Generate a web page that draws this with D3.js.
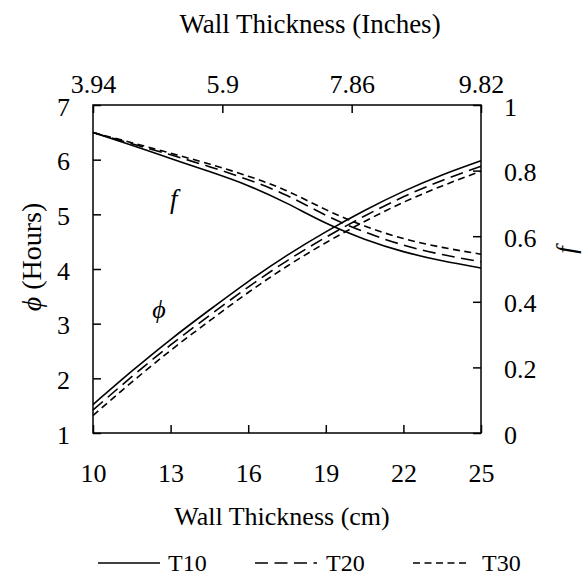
<!DOCTYPE html>
<html>
<head>
<meta charset="utf-8">
<script src="https://cdn.jsdelivr.net/npm/d3@7"></script>
<style>
  html, body { margin: 0; padding: 0; background: #fff; }
  svg { display: block; }
  text { font-family: "Liberation Serif", "Times New Roman", serif; fill: #000; }
</style>
</head>
<body>
<svg id="chart" width="587" height="577"></svg>
<script>
// Wall thickness (cm) at which the curves are sampled
const thicknessCm = [10, 11.5, 13, 14.5, 16, 17.5, 19, 20.5, 22, 23.5, 25];

// Time lag phi (hours), left axis
const phiT10 = [1.52, 2.13, 2.71, 3.25, 3.77, 4.25, 4.68, 5.07, 5.42, 5.72, 5.98];
const phiT20 = [1.42, 2.03, 2.61, 3.15, 3.67, 4.15, 4.58, 4.97, 5.32, 5.62, 5.88];
const phiT30 = [1.32, 1.93, 2.51, 3.05, 3.57, 4.05, 4.48, 4.87, 5.22, 5.52, 5.79];

// Decrement factor f, right axis
const fT10 = [0.916, 0.877, 0.837, 0.797, 0.754, 0.700, 0.640, 0.591, 0.553, 0.525, 0.503];
const fT20 = [0.916, 0.882, 0.848, 0.812, 0.772, 0.724, 0.664, 0.613, 0.573, 0.544, 0.522];
const fT30 = [0.916, 0.885, 0.853, 0.820, 0.783, 0.738, 0.681, 0.631, 0.593, 0.566, 0.545];

// Tick labels
const cmTicks = [10, 13, 16, 19, 22, 25];
const inchTicks = [3.94, 5.9, 7.86, 9.82];
const phiTicks = [1, 2, 3, 4, 5, 6, 7];
const fTicks = [0, 0.2, 0.4, 0.6, 0.8, 1];

const seriesNames = ["T10", "T20", "T30"];
const dashes = { T10: null, T20: "13,6.5", T30: "7,4.5" };

const svg = d3.select("#chart");
const L = 93, R = 481, T = 105, B = 433;
const FS = 24;
const TICK_FS = 26;
const SERIF = "Liberation Serif, Times New Roman, serif";

const x = d3.scaleLinear().domain([10, 25]).range([L, R]);
const xIn = d3.scaleLinear().domain([3.94, 9.82]).range([L, R]);
const yPhi = d3.scaleLinear().domain([1, 7]).range([B, T]);
const yF = d3.scaleLinear().domain([0, 1]).range([B, T]);

function styleAxis(g) {
  g.attr("font-family", SERIF);
  g.select(".domain").remove();
  g.selectAll(".tick line").attr("stroke", "#000").attr("stroke-width", 1.5);
  g.selectAll(".tick text").attr("font-size", TICK_FS).attr("fill", "#000");
}

// Bottom axis (cm)
svg.append("g").attr("transform", `translate(0,${B})`)
  .call(d3.axisBottom(x).tickValues(cmTicks).tickSizeInner(-8).tickSizeOuter(0).tickFormat(d3.format("d")))
  .call(styleAxis)
  .call(g => g.selectAll(".tick text").attr("y", 49).attr("dy", null));

// Top axis (inches)
svg.append("g").attr("transform", `translate(0,${T})`)
  .call(d3.axisTop(xIn).tickValues(inchTicks).tickSizeInner(-8).tickSizeOuter(0).tickFormat(d => String(d)))
  .call(styleAxis)
  .call(g => g.selectAll(".tick text").attr("y", -12).attr("dy", null));

// Left axis (phi)
svg.append("g").attr("transform", `translate(${L},0)`)
  .call(d3.axisLeft(yPhi).tickValues(phiTicks).tickSizeInner(-8).tickSizeOuter(0).tickFormat(d3.format("d")))
  .call(styleAxis)
  .call(g => g.selectAll(".tick text").attr("x", -23).attr("dy", 10));

// Right axis (f)
svg.append("g").attr("transform", `translate(${R},0)`)
  .call(d3.axisRight(yF).tickValues(fTicks).tickSizeInner(-8).tickSizeOuter(0).tickFormat(d => String(d)))
  .call(styleAxis)
  .call(g => g.selectAll(".tick text").attr("x", 23).attr("dy", 10));

// Plot frame
svg.append("rect")
  .attr("x", L).attr("y", T).attr("width", R - L).attr("height", B - T)
  .attr("fill", "none").attr("stroke", "#000").attr("stroke-width", 1.5);

// Curves
const phiLine = d3.line().x((d, i) => x(thicknessCm[i])).y(d => yPhi(d)).curve(d3.curveNatural);
const fLine = d3.line().x((d, i) => x(thicknessCm[i])).y(d => yF(d)).curve(d3.curveNatural);

const phiSeries = { T10: phiT10, T20: phiT20, T30: phiT30 };
const fSeries = { T10: fT10, T20: fT20, T30: fT30 };

const curves = svg.append("g").attr("fill", "none").attr("stroke", "#000").attr("stroke-width", 1.6);
seriesNames.forEach(name => {
  curves.append("path").attr("d", phiLine(phiSeries[name])).attr("stroke-dasharray", dashes[name]);
  curves.append("path").attr("d", fLine(fSeries[name])).attr("stroke-dasharray", dashes[name]);
});

// Curve annotations
svg.append("text").attr("x", 170).attr("y", 208).attr("font-size", 27).attr("font-style", "italic").text("f");
svg.append("text").attr("x", 159).attr("y", 318).attr("text-anchor", "middle").attr("font-size", 26).attr("font-style", "italic").text("ϕ");

// Axis titles
svg.append("text").attr("x", 282).attr("y", 525).attr("text-anchor", "middle").attr("font-size", 26)
  .text("Wall Thickness (cm)");
svg.append("text").attr("x", 310).attr("y", 33).attr("text-anchor", "middle").attr("font-size", 27)
  .text("Wall Thickness (Inches)");
svg.append("text").attr("transform", "translate(41,257) rotate(-90)").attr("text-anchor", "middle").attr("font-size", 28)
  .call(t => {
    t.append("tspan").attr("font-style", "italic").text("ϕ");
    t.append("tspan").text(" (Hours)");
  });
svg.append("text").attr("transform", "translate(575,250) rotate(-90)").attr("text-anchor", "middle").attr("font-size", 27)
  .attr("font-style", "italic").text("f");

// Legend
const legendItems = [
  { name: "T10", x0: 98, x1: 160, tx: 168 },
  { name: "T20", x0: 255, x1: 317, tx: 326 },
  { name: "T30", x0: 413, x1: 470, tx: 482 }
];
const legend = svg.append("g");
legendItems.forEach(it => {
  legend.append("line").attr("x1", it.x0).attr("x2", it.x1).attr("y1", 563).attr("y2", 563)
    .attr("stroke", "#000").attr("stroke-width", 1.6).attr("stroke-dasharray", dashes[it.name]);
  legend.append("text").attr("x", it.tx).attr("y", 571).attr("font-size", FS).text(it.name);
});
</script>
</body>
</html>
